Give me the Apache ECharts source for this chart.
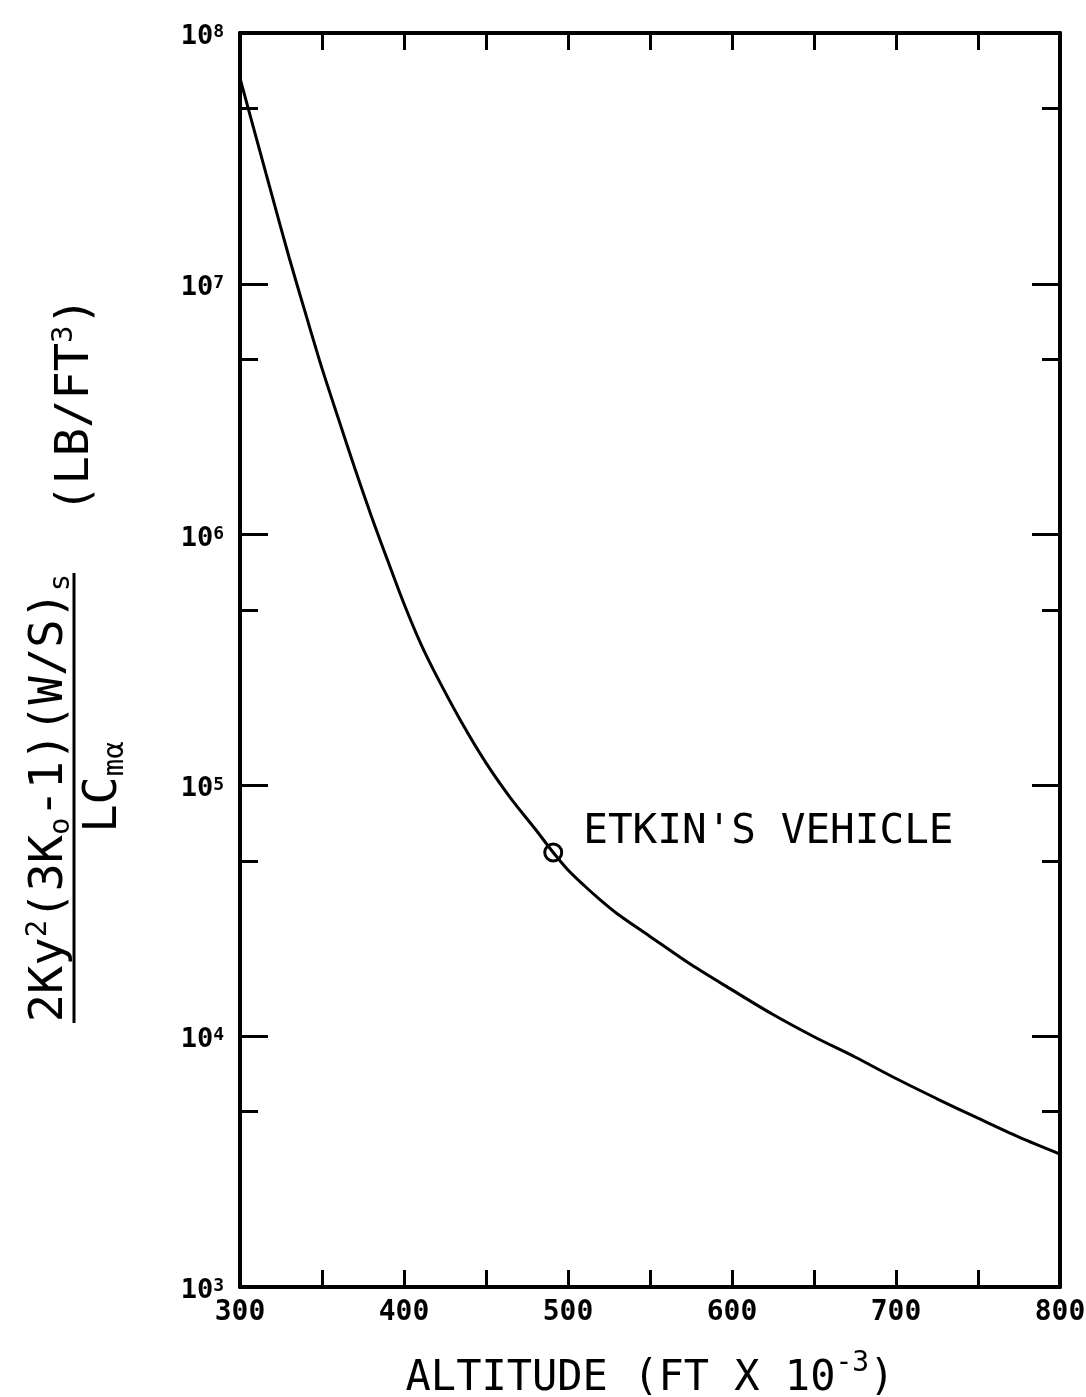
<!DOCTYPE html>
<html>
<head>
<meta charset="utf-8">
<script src="https://cdn.jsdelivr.net/npm/echarts@6/dist/echarts.min.js"></script>
<style>
html,body{margin:0;padding:0;background:#ffffff;}
#chart{width:1086px;height:1397px;}
</style>
</head>
<body>
<div id="chart"></div>
<script>
// ---- data ----
const altitude = [300, 310, 320, 330, 340, 350, 360, 370, 380, 390, 400, 410, 420, 435, 450, 465, 480, 491, 500, 510, 520, 530, 550, 575, 600, 625, 650, 675, 700, 725, 750, 775, 800];
const parameter = [6.6e7, 3.8e7, 2.19e7, 1.27e7, 7.6e6, 4.6e6, 2.9e6, 1.84e6, 1.19e6, 7.9e5, 5.3e5, 3.7e5, 2.72e5, 1.79e5, 1.23e5, 8.9e4, 6.7e4, 5.4e4, 4.6e4, 3.98e4, 3.48e4, 3.08e4, 2.5e4, 1.93e4, 1.53e4, 1.22e4, 9.95e3, 8.26e3, 6.78e3, 5.63e3, 4.71e3, 3.96e3, 3.39e3];
const etkinAltitude = [491];
const etkinValue = [5.4e4];
const etkinLabel = "ETKIN'S VEHICLE";
const xTickValues = [300, 350, 400, 450, 500, 550, 600, 650, 700, 750, 800];
const xLabelValues = [300, 400, 500, 600, 700, 800];
const yMajorExponents = [3, 4, 5, 6, 7, 8];
const yMinorValues = [5e3, 5e4, 5e5, 5e6, 5e7];
const xTitleParts = ['ALTITUDE (FT X 10', '-3', ')'];
const yNumeratorParts = ['2Ky', '2', '(3K', 'o', '-1)(W/S)', 's'];
const yDenominatorParts = ['LC', 'm\u03b1'];
const yUnitParts = ['(LB/FT', '3', ')'];

// ---- styling ----
const MONO = "'DejaVu Sans Mono', 'Liberation Mono', monospace";
const INK = '#000000';
const yMajorValues = yMajorExponents.map(e => Math.pow(10, e));

function yAxisDef(position, tickValues, tickLength, showLineAndLabels) {
  return {
    type: 'log', logBase: 10, min: 1e3, max: 1e8, position: position,
    axisLine: { show: showLineAndLabels, lineStyle: { color: INK, width: 4 } },
    axisTick: { show: true, inside: true, length: tickLength, customValues: tickValues,
                lineStyle: { color: INK, width: 3 } },
    axisLabel: {
      show: showLineAndLabels && position === 'left',
      customValues: yMajorValues,
      margin: 16,
      padding: [8, 0, 0, 0],
      formatter: v => '{b|10}{s|' + Math.round(Math.log10(v)) + '}',
      rich: {
        b: { fontFamily: MONO, fontWeight: 'bold', fontSize: 27, lineHeight: 27, color: INK },
        s: { fontFamily: MONO, fontWeight: 'bold', fontSize: 18, lineHeight: 18, verticalAlign: 'top', color: INK }
      }
    },
    splitLine: { show: false },
    minorTick: { show: false }
  };
}

function xAxisDef(position, showLabels) {
  const ax = {
    type: 'value', min: 300, max: 800, interval: 50, position: position,
    axisLine: { show: true, onZero: false, lineStyle: { color: INK, width: 4 } },
    axisTick: { show: true, inside: true, length: 17, customValues: xTickValues,
                lineStyle: { color: INK, width: 3 } },
    axisLabel: {
      show: showLabels, customValues: xLabelValues, margin: 12,
      fontFamily: MONO, fontWeight: 'bold', fontSize: 28, color: INK
    },
    splitLine: { show: false }
  };
  if (showLabels) {
    ax.name = '{a|' + xTitleParts[0] + '}{s|' + xTitleParts[1] + '}{a|' + xTitleParts[2] + '}';
    ax.nameLocation = 'middle';
    ax.nameGap = 63;
    ax.nameTextStyle = {
      rich: {
        a: { fontFamily: MONO, fontSize: 42, lineHeight: 58, color: INK },
        s: { fontFamily: MONO, fontSize: 28, lineHeight: 28, verticalAlign: 'top', color: INK }
      }
    };
  }
  return ax;
}

const titleRich = {
  b: { fontFamily: MONO, fontSize: 47, lineHeight: 52, fill: INK, color: INK },
  p: { fontFamily: MONO, fontSize: 29, lineHeight: 29, verticalAlign: 'top', fill: INK, color: INK },
  q: { fontFamily: MONO, fontSize: 29, lineHeight: 29, verticalAlign: 'bottom', fill: INK, color: INK }
};

const chart = echarts.init(document.getElementById('chart'), null, { renderer: 'canvas' });
chart.setOption({
  backgroundColor: '#ffffff',
  animation: false,
  grid: { left: 240, right: 26, top: 33, bottom: 110, containLabel: false, outerBoundsMode: 'none' },
  xAxis: [xAxisDef('bottom', true), xAxisDef('top', false)],
  yAxis: [
    yAxisDef('left', yMajorValues, 28, true),
    yAxisDef('left', yMinorValues, 18, false),
    yAxisDef('right', yMajorValues, 28, true),
    yAxisDef('right', yMinorValues, 18, false)
  ],
  series: [
    {
      type: 'line', xAxisIndex: 0, yAxisIndex: 0,
      data: altitude.map((a, i) => [a, parameter[i]]),
      showSymbol: false, smooth: 0.3,
      lineStyle: { color: INK, width: 3 },
      z: 2
    },
    {
      type: 'scatter', xAxisIndex: 0, yAxisIndex: 0,
      data: etkinAltitude.map((a, i) => [a, etkinValue[i]]),
      symbol: 'circle', symbolSize: 17,
      itemStyle: { color: 'rgba(255,255,255,0)', borderColor: INK, borderWidth: 3, opacity: 1 },
      label: {
        show: true, position: 'right', distance: 20, offset: [0, -20],
        formatter: etkinLabel, fontFamily: MONO, fontSize: 41, color: INK, opacity: 1
      },
      z: 3
    }
  ],
  graphic: [
    {
      type: 'text', x: 50, y: 798, rotation: Math.PI / 2,
      style: {
        text: '{b|' + yNumeratorParts[0] + '}{p|' + yNumeratorParts[1] + '}{b|' + yNumeratorParts[2] +
              '}{q|' + yNumeratorParts[3] + '}{b|' + yNumeratorParts[4] + '}{q|' + yNumeratorParts[5] + '}',
        rich: titleRich, align: 'center', verticalAlign: 'middle', fill: INK
      }
    },
    {
      type: 'line', shape: { x1: 74, y1: 573, x2: 74, y2: 1023 },
      style: { stroke: INK, lineWidth: 3 }
    },
    {
      type: 'text', x: 104, y: 787, rotation: Math.PI / 2,
      style: {
        text: '{b|' + yDenominatorParts[0] + '}{q|' + yDenominatorParts[1] + '}',
        rich: titleRich, align: 'center', verticalAlign: 'middle', fill: INK
      }
    },
    {
      type: 'text', x: 76, y: 405, rotation: Math.PI / 2,
      style: {
        text: '{b|' + yUnitParts[0] + '}{p|' + yUnitParts[1] + '}{b|' + yUnitParts[2] + '}',
        rich: titleRich, align: 'center', verticalAlign: 'middle', fill: INK
      }
    }
  ]
});
</script>
</body>
</html>
